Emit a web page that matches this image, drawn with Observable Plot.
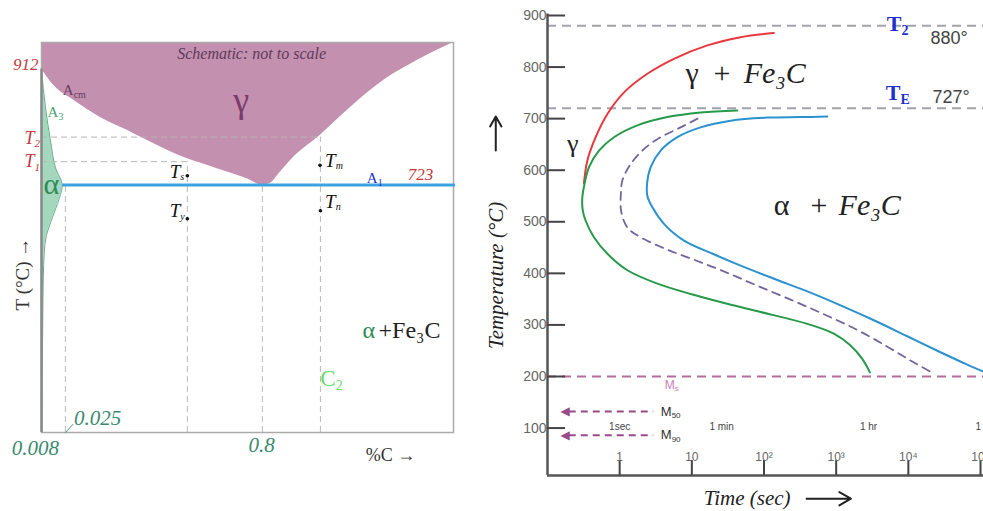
<!DOCTYPE html>
<html><head><meta charset="utf-8">
<script src="https://cdn.jsdelivr.net/npm/d3@7"></script>
<script src="https://cdn.jsdelivr.net/npm/@observablehq/plot@0.6"></script>
<style>
body{margin:0;background:#fff;}
#wrap{display:flex;width:983px;height:511px;overflow:hidden;background:#fff;}
#wrap svg{flex:none;overflow:visible;}
</style></head><body><div id="wrap"></div>
<script>
// ---------- LEFT PANEL: schematic Fe–Fe3C diagram (schematic units, not to scale) ----------
const gammaX = [0, 3, 7.8, 14.3, 20.8, 24, 28.9, 34.5, 40.2, 45.1, 49.9, 53.6, 55.6, 58, 61.2, 67.7, 75, 83, 91.3, 100];
const gammaT = [912, 885, 861, 833, 812, 801, 785, 768, 755, 744, 733, 723, 726, 744, 768, 804, 849, 893, 926, 955];
const alphaT = [320, 502, 576, 611, 641, 662, 693, 722, 751, 795, 849, 912];
const alphaX = [0.12, 0.3, 0.45, 0.65, 1.2, 2.2, 3.9, 5.02, 3.4, 2.18, 0.97, 0];
const guideX = [5.8, 35.4, 53.6, 67.7];
const guideTop = [723, 761, 723, 801];
const levelT = [801, 761];          // T2, T1 levels
const levelEnd = [67.7, 35.4];
const pointX = [35.4, 35.4, 67.6, 67.7];
const pointT = [738, 668, 755, 681];
const compLabels = ["0.008", "0.025", "0.8"];
const eutectoidT = 723, a3T = 912;

// ---------- RIGHT PANEL: TTT diagram ----------
const redTime = [0.32, 0.357, 0.465, 0.676, 1.15, 2.42, 5.65, 16.4, 47.4, 137];
const redTemp = [575, 619, 664, 709, 751, 787, 816, 842, 858, 866];
const greenTime = [42.7, 13.2, 4.58, 1.76, 0.834, 0.517, 0.376, 0.322, 0.303, 0.308, 0.338, 0.44, 0.676, 1.28, 3.33, 9.62, 31, 89.7, 398, 929, 1582, 2300, 2930];
const greenTemp = [716, 712, 703, 687, 664, 638, 606, 570, 545, 522, 502, 470, 438, 406, 380, 360, 341, 325, 302, 283, 260, 234, 208];
const blueTime = [753, 321, 111, 34.5, 13.2, 6.3, 3.7, 2.69, 2.4, 2.42, 2.84, 4.11, 7.69, 20.2, 47.4, 135, 398, 1151, 3330, 9660, 27900, 65400, 108000];
const blueTemp = [704, 703, 702, 696, 683, 664, 638, 606, 575, 550, 528, 496, 464, 437, 415, 390, 365, 338, 309, 278, 247, 223, 210];
const dashTime = [12, 7.0, 3.7, 2.17, 1.42, 1.09, 1.04, 1.05, 1.28, 1.95, 4.58, 11.9, 31, 80.7, 234, 667, 1910, 4820, 10700, 22300];
const dashTemp = [700, 683, 664, 641, 612, 580, 555, 520, 489, 470, 446, 424, 401, 376, 349, 321, 291, 260, 231, 206];
const yTicks = [100, 200, 300, 400, 500, 600, 700, 800, 900];
const xTicks = [1, 10, 100, 1000, 10000, 100000];
const xTickLabels = ["1", "10", "10²", "10³", "10⁴", "10⁵"];
const timeNotes = ["1sec", "1 min", "1 hr"];
const timeNoteAt = [1, 25.9, 2810];
const T2 = 880, TE = 720, Ms = 200;
const T2Label = "880°", TELabel = "727°";

const serif = "'Liberation Serif', 'Times New Roman', serif";
const sans = "'Liberation Sans', Arial, sans-serif";

function lbl(text, x, y, o = {}) {
  return Plot.text([text], {x, y, text: d => d, fontFamily: serif, ...o});
}
function sub(x, y, main, s, o) {
  const base = {fontFamily: o.ff || serif, fill: o.fill, fontStyle: o.fs || "normal", fontWeight: o.fw || "normal"};
  return [
    Plot.text([main], {x, y, text: d => d, textAnchor: "end", fontSize: o.size, ...base}),
    Plot.text([s], {x, y, text: d => d, textAnchor: "start", fontSize: o.sub || Math.round(o.size * 0.6), dy: o.size * 0.3, ...base})
  ];
}

const gamma = gammaX.map((x, i) => ({x, t: gammaT[i]}));
const alpha = alphaX.map((x, i) => ({x, t: alphaT[i]}));
const guides = guideX.map((x, i) => ({x, top: guideTop[i]}));
const levels = levelT.map((t, i) => ({t, end: levelEnd[i]}));
const pts = pointX.map((x, i) => ({x, t: pointT[i]}));

const left = Plot.plot({
  width: 480, height: 511,
  marginLeft: 41, marginRight: 27, marginTop: 42, marginBottom: 79,
  x: {domain: [0, 100], axis: null},
  y: {domain: [320, 955], axis: null},
  marks: [
    Plot.areaY(gamma, {x: "x", y1: "t", y2: 955, fill: "#c390af", curve: "monotone-x"}),
    Plot.areaX(alpha, {y: "t", x1: 0, x2: "x", fill: "#a5d7be", curve: "monotone-y"}),
    Plot.line(alpha, {x: "x", y: "t", stroke: "#5fae88", strokeWidth: 1, curve: "monotone-y"}),
    Plot.ruleX(guides, {x: "x", y1: 320, y2: "top", stroke: "#bbb", strokeDasharray: "6,4", strokeWidth: 1}),
    Plot.ruleY(levels, {y: "t", x1: 0, x2: "end", stroke: "#b5b5b5", strokeDasharray: "6,4", strokeWidth: 1}),
    Plot.frame({stroke: "#aaa", strokeWidth: 1.5}),
    Plot.ruleX([0], {y1: 320, y2: a3T, stroke: "#8a8a8a", strokeWidth: 2.5}),
    Plot.ruleY([eutectoidT], {x1: 5.1, x2: 100.5, stroke: "#3ca3e2", strokeWidth: 3}),
    Plot.dot(pts, {x: "x", y: "t", r: 1.8, fill: "#111"}),
    Plot.line([{x: 5.8, t: 320}, {x: 7.6, t: 333}], {x: "x", y: "t", stroke: "#4a9a78", strokeWidth: 1}),
    lbl("Schematic: not to scale", 51, 937, {fontSize: 16, fontStyle: "italic", fill: "#5e3b5a"}),
    lbl("γ", 48.5, 861, {fontSize: 36, fill: "#7b3a6c"}),
    lbl("912", -0.7, 919, {fontSize: 17, fontStyle: "italic", fill: "#c0393b", textAnchor: "end"}),
    lbl("723", 92, 740, {fontSize: 17, fontStyle: "italic", fill: "#c0393b"}),
    ...sub(7.8, 877, "A", "cm", {size: 15, sub: 10, fill: "#6b3a5e"}),
    ...sub(4.1, 841, "A", "3", {size: 15, sub: 10, fill: "#4d9d74"}),
    ...sub(81.6, 734, "A", "1", {size: 15, sub: 10, fill: "#2233cc"}),
    ...sub(-1.7, 799, "T", "2", {size: 18, sub: 11, fs: "italic", fill: "#c0393b"}),
    ...sub(-1.7, 761, "T", "1", {size: 18, sub: 11, fs: "italic", fill: "#c0393b"}),
    ...sub(33.7, 745, "T", "s", {size: 19, sub: 10, fs: "italic", fill: "#111"}),
    ...sub(33.7, 681, "T", "y", {size: 19, sub: 10, fs: "italic", fill: "#111"}),
    ...sub(71.4, 763, "T", "m", {size: 19, sub: 10, fs: "italic", fill: "#111"}),
    ...sub(71.4, 696, "T", "n", {size: 19, sub: 10, fs: "italic", fill: "#111"}),
    lbl("α", 2.4, 724, {fontSize: 30, fill: "#2e8b57"}),
    lbl("α", 77.9, 486, {fontSize: 24, fill: "#2e8b57", textAnchor: "start"}),
    lbl("+Fe₃C", 81.8, 486, {fontSize: 24, fill: "#222", textAnchor: "start"}),
    ...sub(71.4, 408, "C", "2", {size: 23, sub: 14, fill: "#66dd66"}),
    lbl("T (°C) →", -4.4, 578, {fontSize: 19, fill: "#333", rotate: -90}),
    lbl(compLabels[0], -1.5, 294, {fontSize: 21, fontStyle: "italic", fill: "#3a8a6e"}),
    lbl(compLabels[1], 13.6, 343, {fontSize: 21, fontStyle: "italic", fill: "#3a8a6e"}),
    lbl(compLabels[2], 53.4, 299, {fontSize: 21, fontStyle: "italic", fill: "#3a8a6e"}),
    lbl("%C →", 84.7, 283, {fontSize: 18, fill: "#333"})
  ]
});

const red = redTime.map((t, i) => ({t, T: redTemp[i]}));
const green = greenTime.map((t, i) => ({t, T: greenTemp[i]}));
const blue = blueTime.map((t, i) => ({t, T: blueTemp[i]}));
const dash = dashTime.map((t, i) => ({t, T: dashTemp[i]}));
const xt = xTicks.map((t, i) => ({t, label: xTickLabels[i]}));
const notes = timeNotes.map((s, i) => ({s, t: timeNoteAt[i]}));

const right = Plot.plot({
  width: 503, height: 511,
  marginLeft: 67, marginRight: 0, marginTop: 15, marginBottom: 36,
  x: {type: "log", domain: [0.1, 1.1e5], axis: null},
  y: {domain: [8, 900], axis: null},
  marks: [
    Plot.ruleY([T2, TE], {x1: 0.1, x2: 1.1e5, stroke: "#a2a2aa", strokeWidth: 2, strokeDasharray: "9,6"}),
    Plot.ruleY([Ms], {x1: 0.1, x2: 1.1e5, stroke: "#b56c9c", strokeWidth: 2, strokeDasharray: "9,6"}),
    Plot.line(red, {x: "t", y: "T", stroke: "#e8383d", strokeWidth: 2, curve: "catmull-rom"}),
    Plot.line(green, {x: "t", y: "T", stroke: "#279a4a", strokeWidth: 2, curve: "catmull-rom"}),
    Plot.line(blue, {x: "t", y: "T", stroke: "#2b91cf", strokeWidth: 2, curve: "catmull-rom"}),
    Plot.line(dash, {x: "t", y: "T", stroke: "#74649e", strokeWidth: 1.8, strokeDasharray: "8,6", curve: "catmull-rom"}),
    // axes
    Plot.ruleX([0.1], {y1: 8, y2: 903, stroke: "#555", strokeWidth: 2.5}),
    Plot.ruleY([8], {x1: 0.1, x2: 1.1e5, stroke: "#555", strokeWidth: 2.5}),
    Plot.ruleY(yTicks, {x1: 0.1, x2: 0.178, stroke: "#444", strokeWidth: 2}),
    Plot.text(yTicks, {x: 0.1, y: d => d, text: d => String(d), textAnchor: "end", dx: -1, fontSize: 14, fontFamily: sans, fill: "#666"}),
    Plot.ruleX(xt, {x: "t", y1: 8, y2: 37, stroke: "#444", strokeWidth: 2}),
    Plot.text(xt, {x: "t", y: 43, text: "label", fontSize: 12, fontFamily: sans, fill: "#666"}),
    Plot.text(notes, {x: "t", y: 103, text: "s", fontSize: 10, fontFamily: sans, fill: "#444"}),
    lbl("1 day", 85200, 103, {fontSize: 10, fontFamily: sans, fill: "#444", textAnchor: "start"}),
    // Ms / M50 / M90
    ...sub(5.78, 183, "M", "s", {size: 12, sub: 8, ff: sans, fill: "#d07db6"}),
    ...sub(5.25, 132, "M", "50", {size: 13, sub: 8, ff: sans, fill: "#333"}),
    ...sub(5.25, 86, "M", "90", {size: 13, sub: 8, ff: sans, fill: "#333"}),
    Plot.ruleY([132, 86], {x1: 0.2, x2: 2.96, stroke: "#9a4a88", strokeWidth: 2, strokeDasharray: "7,5"}),
    Plot.text([132, 86], {x: 0.175, y: d => d, text: () => "◀", fontSize: 12, fontFamily: "DejaVu Sans", fill: "#9a4a88"}),
    // region labels
    lbl("γ", 0.223, 652, {fontSize: 26, fill: "#222"}),
    lbl("γ", 8.2, 787, {fontSize: 30, fill: "#222", textAnchor: "start"}),
    lbl("+", 20.0, 787, {fontSize: 30, fill: "#222", textAnchor: "start"}),
    lbl("Fe₃C", 52.2, 787, {fontSize: 30, fill: "#222", textAnchor: "start", fontStyle: "italic"}),
    lbl("α", 136, 532, {fontSize: 30, fill: "#222", textAnchor: "start"}),
    lbl("+", 442, 532, {fontSize: 30, fill: "#222", textAnchor: "start"}),
    lbl("Fe₃C", 1080, 532, {fontSize: 30, fill: "#222", textAnchor: "start", fontStyle: "italic"}),
    // T2 / TE
    ...sub(8050, 883, "T", "2", {size: 22, sub: 14, fw: "bold", fill: "#1f2fcf"}),
    ...sub(7800, 749, "T", "E", {size: 22, sub: 14, fw: "bold", fill: "#1f2fcf"}),
    lbl(T2Label, 20300, 855, {fontSize: 18, fontFamily: sans, fill: "#444", textAnchor: "start"}),
    lbl(TELabel, 21600, 741, {fontSize: 18, fontFamily: sans, fill: "#444", textAnchor: "start"}),
    // axis titles
    lbl("Temperature (°C)", 0.0192, 396, {fontSize: 21, fontStyle: "italic", fill: "#222", rotate: -90}),
    Plot.arrow([0], {x1: 0.0192, x2: 0.0192, y1: 638, y2: 704, stroke: "#222", strokeWidth: 2, headLength: 9}),
    lbl("Time (sec)", 14.6, -37, {fontSize: 21, fontStyle: "italic", fill: "#222", textAnchor: "start"}),
    Plot.arrow([0], {x1: 389, x2: 1600, y1: -37, y2: -37, stroke: "#222", strokeWidth: 2, headLength: 10})
  ]
});

document.getElementById("wrap").append(left, right);
</script>
</body></html>
